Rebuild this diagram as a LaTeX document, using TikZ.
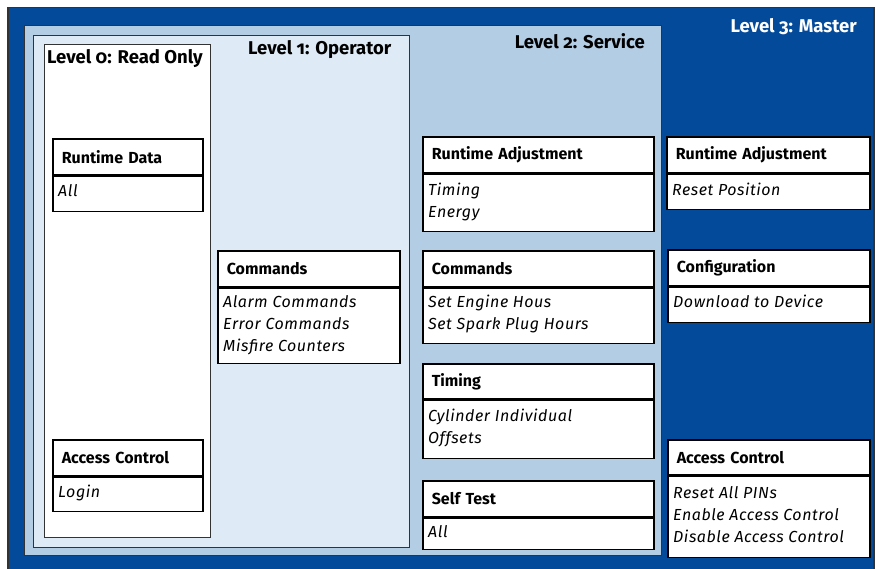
\documentclass[tikz,border=0pt]{standalone}
\usepackage{fontspec}
\setmainfont{Fira Sans}[Numbers=OldStyle]
\newfontfamily\bodyfont{Fira Sans}[Numbers=OldStyle, LetterSpace=3.5]
\definecolor{lvthree}{HTML}{034A9A}
\definecolor{lvtwo}{HTML}{B3CDE4}
\definecolor{lvone}{HTML}{DEEAF5}
\newcommand\mkbox[9]{%
  \pgfmathsetmacro\hdrtw{#4-18}%
  \node[hdr, minimum width=#4pt, text width=\hdrtw pt, minimum height=#5pt] (#1h) at (#2,#3) {#8};
  \node[bdy, minimum width=#4pt, minimum height=#6pt] (#1b) at (#1h.south west) {};
  \node[bdytext] (#1t) at ([xshift=6pt, yshift=#7pt]#1b.west) {#9};
}
\begin{document}
\begin{tikzpicture}[x=1pt,y=-1pt,
  region/.style={draw=black!80, line width=1.2pt, anchor=north west, inner sep=0pt},
  hdr/.style={draw=black, line width=1.6pt, fill=white, anchor=north west, align=left,
    inner xsep=9pt, inner ysep=0pt, font=\bfseries\fontsize{16}{18}\selectfont},
  bdy/.style={draw=black, line width=1.6pt, fill=white, anchor=north west, inner sep=0pt},
  bdytext/.style={anchor=west, align=left, inner sep=0pt,
    font=\bodyfont\itshape\fontsize{16}{22}\selectfont},
  lvtitle/.style={inner sep=0pt, font=\bfseries\fontsize{18.5}{20}\selectfont}]
\useasboundingbox (0,0) rectangle (876,569);
\fill[white] (0,0) rectangle (876,569);
\node[region, fill=lvthree, line width=1.5pt, minimum width=866pt, minimum height=562pt] (L3) at (7,7) {};
\node[region, fill=lvtwo, minimum width=637pt, minimum height=530pt] (L2) at (24,25) {};
\node[region, fill=lvone, minimum width=376pt, minimum height=512pt] (L1) at (33,35) {};
\node[region, fill=white, minimum width=166pt, minimum height=493pt] (L0) at (44,44) {};
\node[lvtitle, anchor=west] (t0) at (47,59) {Level 0: Read Only};
\node[lvtitle, anchor=west] (t1) at (248,50) {Level 1: Operator};
\node[lvtitle, anchor=east] (t2) at (645,41) {Level 2: Service};
\node[lvtitle, anchor=east, text=white] (t3) at (857,27) {Level 3: Master};
\mkbox{rd}{52}{138}{150}{36}{35}{3}{Runtime Data}{All}
\mkbox{acz}{52}{439}{150}{36}{34}{1}{Access Control}{Login}
\mkbox{cmdo}{217}{250}{182}{36}{75}{1}{Commands}{Alarm Commands\\Error Commands\\Misfire Counters}
\mkbox{rat}{422}{136}{231}{36}{57}{1}{Runtime Adjustment}{Timing\\Energy}
\mkbox{cmdt}{422}{250}{231}{36}{55}{2}{Commands}{Set Engine Hous\\Set Spark Plug Hours}
\mkbox{tim}{422}{363}{231}{35}{58}{1}{Timing}{Cylinder Individual\\Offsets}
\mkbox{st}{422}{480}{231}{36}{31}{2}{Self Test}{All}
\mkbox{rah}{666}{136}{203}{36}{35}{3}{Runtime Adjustment}{Reset Position}
\mkbox{cfg}{667}{249}{202}{36}{35}{4}{Configuration}{Download to Device}
\mkbox{ach}{667}{439}{202}{35}{81}{2}{Access Control}{Reset All PINs\\Enable Access Control\\Disable Access Control}
\end{tikzpicture}
\end{document}
